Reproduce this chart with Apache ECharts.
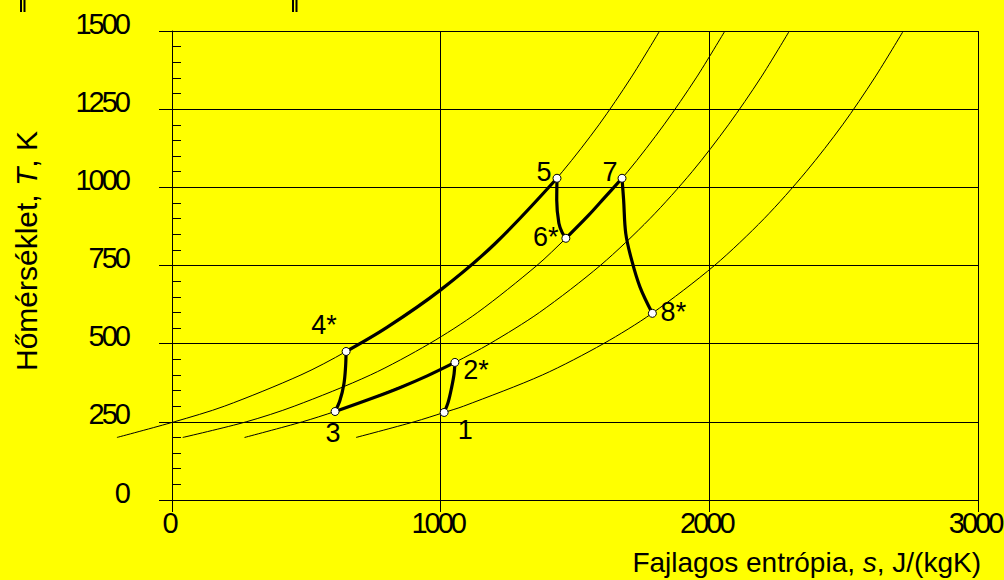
<!DOCTYPE html>
<html>
<head>
<meta charset="utf-8">
<script src="https://cdn.jsdelivr.net/npm/echarts@6/dist/echarts.min.js"></script>
<style>
  html, body { margin: 0; padding: 0; background: #ffff00; }
  #chart { width: 1004px; height: 580px; }
  /* tick numbers are set tightly */
  #chart text[style*="29px"] { letter-spacing: -3px; }
</style>
</head>
<body>
<div id="chart"></div>
<script>
// Isobars in the T-s plane: [s in J/(kgK), T in K]
const isobarHigh = [[-205,200],[8,250],[195,300],[480,400],[648,475],[885,600],[1112,750],[1297,900],[1453,1050],[1589,1200],[1708,1350],[1815,1500]];
const isobarReheat = [[40,200],[276,250],[455,300],[739,400],[958,500],[1138,600],[1358,750],[1466,837],[1539,900],[1696,1050],[1831,1200],[1951,1350],[2058,1500]];
const isobarInter = [[270,200],[485,250],[607,283],[665,300],[958,400],[1053,440],[1183,500],[1368,600],[1594,750],[1779,900],[1936,1050],[2071,1200],[2191,1350],[2298,1500]];
const isobarLow = [[685,200],[901,250],[1013,280],[1085,300],[1379,400],[1606,500],[1787,597],[2019,750],[2204,900],[2360,1050],[2496,1200],[2615,1350],[2722,1500]];

// Cycle processes
const proc12 = [[1013,280],[1028,313],[1041,361],[1050,404],[1053,440]];
const proc23 = [[1053,440],[950,397],[850,360],[750,327],[607,283]];
const proc34 = [[607,283],[625,318],[640,372],[646,425],[648,475]];
const proc45 = [[648,475],[800,552],[1000,672],[1200,818],[1433,1029]];
const proc56 = [[1433,1029],[1432,959],[1440,885],[1452,856],[1466,837]];
const proc67 = [[1466,837],[1550,910],[1610,967],[1675,1029]];
const proc78 = [[1675,1029],[1681,959],[1689,852],[1711,767],[1742,681],[1788,597]];

// State points
const stateNames = ['1','2*','3','4*','5','6*','7','8*'];
const stateS = [1013,1053,607,648,1433,1466,1675,1788];
const stateT = [280,440,283,475,1029,837,1029,597];

// Axis ticks
const sTicks = [0, 1000, 2000, 3000];
const tTicks = [0, 250, 500, 750, 1000, 1250, 1500];
// the isobars run a little past s = 0, so they sit on a wider hidden frame
const sIsobarMin = -300;

// label placement around each state point (px)
const labelOffset = {
  '1': [21, 18], '2*': [21, 8], '3': [-2, 21], '4*': [-22, -26],
  '5': [-13, -6], '6*': [-20, -1], '7': [-12, -6], '8*': [21, -1]
};

const FONT = 'Liberation Sans, Arial, sans-serif';
const chart = echarts.init(document.getElementById('chart'), null, { renderer: 'svg' });

const PLOT = { left: 172, right: 26, top: 31, bottom: 80 };
const sMax = sTicks[sTicks.length - 1];
const pxPerS = (1004 - PLOT.left - PLOT.right) / (sMax - sTicks[0]);

const thin = data => ({
  type: 'line', data, xAxisIndex: 1, yAxisIndex: 2,
  showSymbol: false, clip: false, smooth: 0.3,
  lineStyle: { color: '#000', width: 1 }, z: 3, silent: true
});
const thick = data => ({
  type: 'line', data, showSymbol: false, clip: false, smooth: 0.35,
  lineStyle: { color: '#000', width: 3.2 }, z: 4, silent: true
});

const states = stateNames.map((n, i) => ({
  name: n, value: [stateS[i], stateT[i]],
  label: { offset: labelOffset[n] }
}));

const plain = v => String(v);

chart.setOption({
  backgroundColor: '#ffff00',
  animation: false,
  grid: [
    Object.assign({ containLabel: false, outerBoundsMode: 'none' }, PLOT),
    Object.assign({ containLabel: false, outerBoundsMode: 'none' }, PLOT,
      { left: PLOT.left + sIsobarMin * pxPerS })
  ],
  xAxis: [{
    type: 'value', min: sTicks[0], max: sMax, interval: sTicks[1] - sTicks[0],
    axisLine: { show: true, lineStyle: { color: '#000', width: 1 } },
    axisTick: { show: true, inside: false, length: 12, lineStyle: { color: '#000', width: 1 } },
    splitLine: { show: true, lineStyle: { color: '#000', width: 1 } },
    axisLabel: { color: '#000', fontSize: 29, fontFamily: FONT, margin: 8, padding: [0, 6, 0, 0], formatter: plain, hideOverlap: false }
  }, {
    type: 'value', gridIndex: 1, min: sIsobarMin, max: sMax, show: false
  }],
  yAxis: [{
    type: 'value', min: tTicks[0], max: tTicks[tTicks.length - 1], interval: tTicks[1] - tTicks[0],
    axisLine: { show: true, lineStyle: { color: '#000', width: 1 } },
    axisTick: { show: true, inside: false, length: 13, lineStyle: { color: '#000', width: 1 } },
    splitLine: { show: true, lineStyle: { color: '#000', width: 1 } },
    axisLabel: {
      color: '#000', fontSize: 29, fontFamily: FONT, margin: 44,
      verticalAlign: 'bottom', lineHeight: 15, formatter: plain
    }
  }, {
    type: 'value', position: 'left', offset: 0,
    min: tTicks[0], max: tTicks[tTicks.length - 1], interval: 50,
    axisLine: { show: false },
    axisTick: { show: true, inside: true, length: 9, lineStyle: { color: '#000', width: 1 } },
    splitLine: { show: false },
    axisLabel: { show: false }
  }, {
    type: 'value', gridIndex: 1, min: tTicks[0], max: tTicks[tTicks.length - 1], show: false
  }],
  series: [
    thin(isobarHigh), thin(isobarReheat), thin(isobarInter), thin(isobarLow),
    thick(proc12), thick(proc23), thick(proc34), thick(proc45),
    thick(proc56), thick(proc67), thick(proc78),
    {
      type: 'scatter', data: states, z: 6, clip: false, silent: true,
      symbol: 'circle', symbolSize: 8,
      itemStyle: { color: '#fff', borderColor: '#000', borderWidth: 1, opacity: 1 },
      label: {
        show: true, position: 'inside', formatter: p => p.name,
        color: '#000', fontSize: 27, fontFamily: FONT, opacity: 1,
        textBorderWidth: 0, textBorderColor: 'transparent'
      }
    }
  ],
  graphic: [
    {
      type: 'text', x: 981, y: 562, silent: true,
      style: {
        text: 'Fajlagos entrópia, {i|s}, J/(kgK)',
        fill: '#000', fontSize: 28, fontFamily: FONT,
        align: 'right', verticalAlign: 'middle',
        rich: { i: { fontSize: 28, fontFamily: FONT, fontStyle: 'italic', fill: '#000' } }
      }
    },
    {
      type: 'text', x: 26, y: 251, rotation: Math.PI / 2, silent: true,
      style: {
        text: 'Hőmérséklet, {i|T}, K',
        fill: '#000', fontSize: 30, fontFamily: FONT,
        align: 'center', verticalAlign: 'middle',
        rich: { i: { fontSize: 30, fontFamily: FONT, fontStyle: 'italic', fill: '#000' } }
      }
    },
    { type: 'rect', shape: { x: 20, y: 0, width: 2, height: 12 }, style: { fill: '#000' }, silent: true },
    { type: 'rect', shape: { x: 23.5, y: 0, width: 2, height: 12 }, style: { fill: '#000' }, silent: true },
    { type: 'rect', shape: { x: 292, y: 0, width: 2, height: 12 }, style: { fill: '#000' }, silent: true },
    { type: 'rect', shape: { x: 295.5, y: 0, width: 2, height: 12 }, style: { fill: '#000' }, silent: true }
  ]
});
</script>
</body>
</html>
